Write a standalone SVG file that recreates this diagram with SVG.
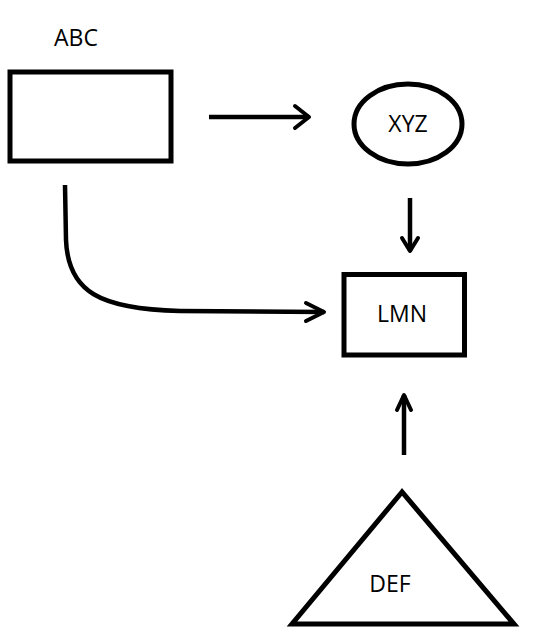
<svg xmlns="http://www.w3.org/2000/svg" width="548" height="643" viewBox="0 0 548 643">
<style>
.s{fill:none;stroke:#000;stroke-width:4.5}
.n{fill:#fff;stroke:#000;stroke-width:5}
.t{font-family:"Open Sans","Liberation Sans",sans-serif;font-size:23px;fill:#000;text-anchor:middle}
.h{fill:none;stroke:#000;stroke-width:4;stroke-linecap:round;stroke-linejoin:round}
</style>
<rect width="548" height="643" fill="#fff"/>
<g id="connectors">
<line class="s" x1="209" y1="117" x2="309" y2="117"/>
<polyline class="h" points="295,106 309,117 295,128"/>
<line class="s" x1="410" y1="198" x2="410" y2="251"/>
<polyline class="h" points="402,238 410,251 418,238"/>
<path class="s" d="M65,185 L66,240 C68,292 100,309 180,311 L324,312"/>
<polyline class="h" points="306,303 324,312 306,321"/>
<line class="s" x1="404" y1="455" x2="404" y2="395"/>
<polyline class="h" points="397,410 404,395 411,410"/>
</g>
<g id="ABC">
<rect class="n" x="10" y="72" width="161" height="89"/>
<text class="t" x="76" y="46">ABC</text>
</g>
<g id="XYZ">
<ellipse class="n" cx="408" cy="124" rx="54" ry="40"/>
<text class="t" x="408" y="132">XYZ</text>
</g>
<g id="LMN">
<rect class="n" x="344" y="274.5" width="120.5" height="80.5"/>
<text class="t" x="402" y="322">LMN</text>
</g>
<g id="DEF">
<polygon class="n" points="402,492 292,624 514,624"/>
<text class="t" x="390" y="592">DEF</text>
</g>
</svg>
